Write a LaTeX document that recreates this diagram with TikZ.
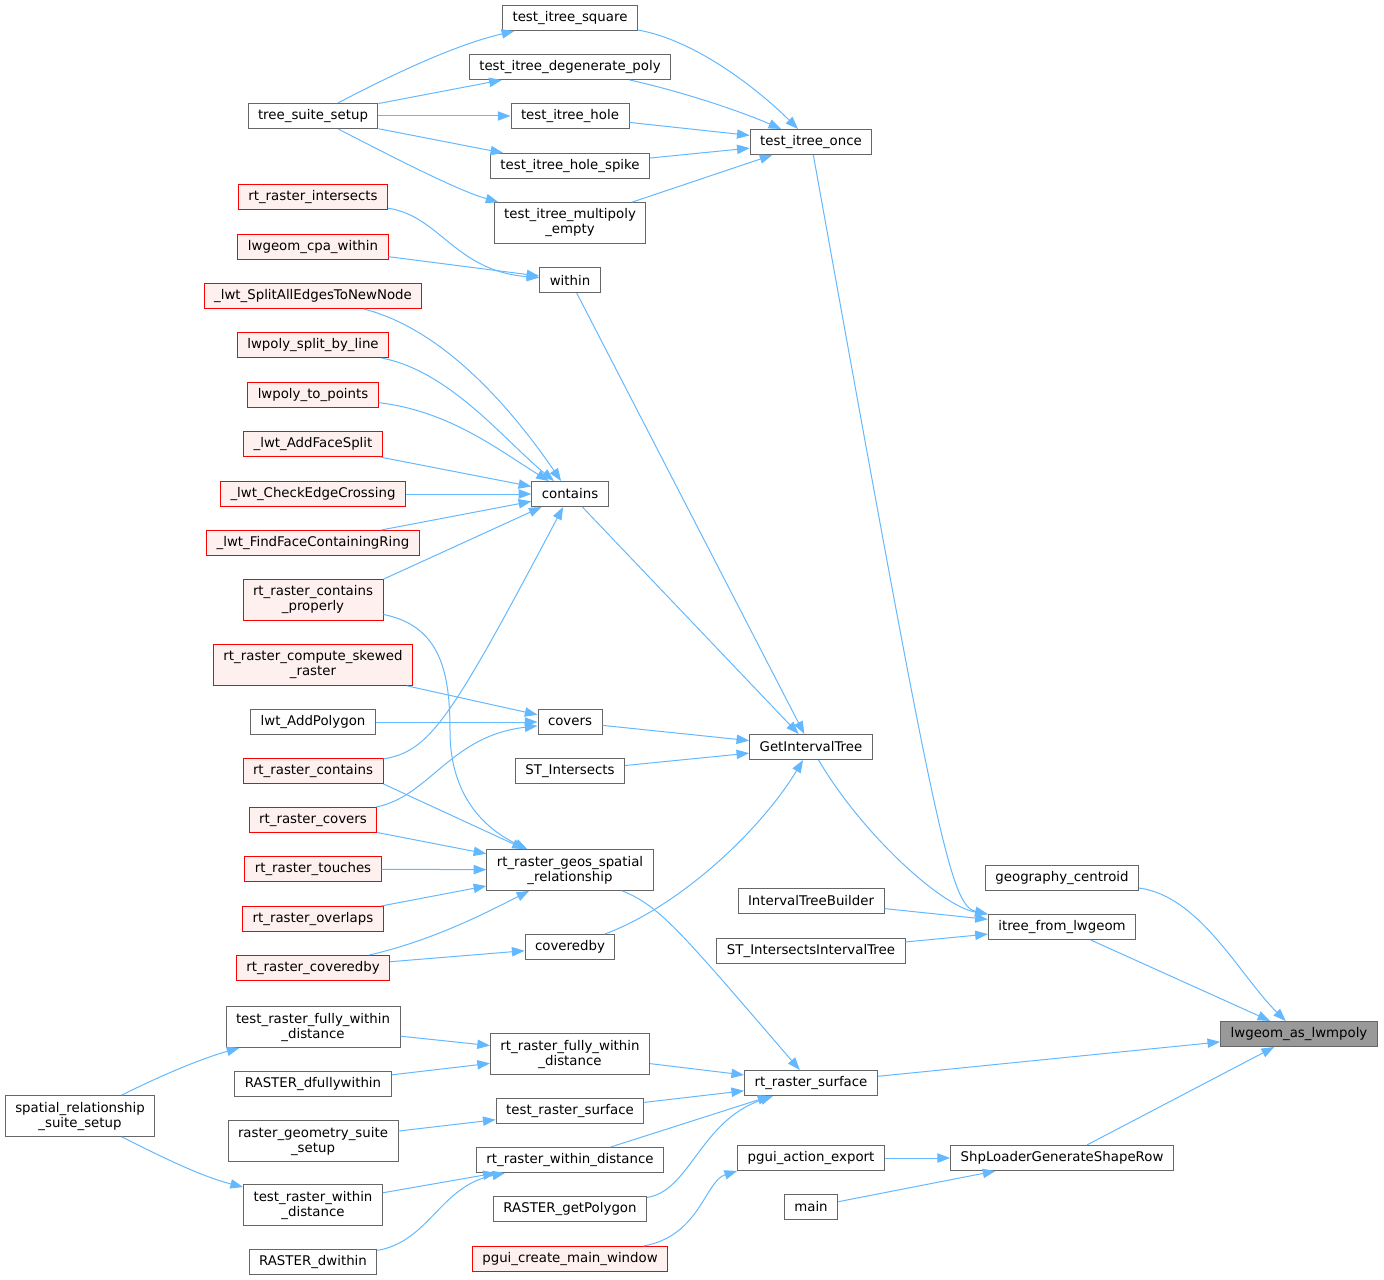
\documentclass[tikz,border=0pt]{standalone}
\usepackage{fontspec}
\setmainfont{DejaVu Sans}
\usepackage{tikz}
\usetikzlibrary{arrows.meta}
\usepackage{xcolor}
\definecolor{edgeblue}{HTML}{63B8FF}
\definecolor{boxgray}{HTML}{666666}
\definecolor{rootgray}{HTML}{999999}
\definecolor{redfill}{HTML}{FFF0F0}

\begin{document}
\begin{tikzpicture}[x=0.75pt,y=-0.75pt,
  fn/.style={draw=boxgray,fill=white,line width=0.75pt,font=\fontsize{10}{11.25}\selectfont,
    inner xsep=7.5pt,inner ysep=0pt,minimum height=18.75pt,align=center},
  fnii/.style={fn,minimum height=30.5pt},
  fnred/.style={draw=red,fill=redfill},
  fnroot/.style={fill=rootgray},
  call/.style={edgeblue,line width=0.75pt,-{Triangle[length=9.5pt,width=7pt]}}]
\useasboundingbox (0,0) rectangle (1384,1280);

\node[fn,fnroot] (root) at (1299,1034) {lwgeom\_as\_lwmpoly};
\node[fn] (gcen) at (1062,878) {geography\_centroid};
\node[fn] (itree) at (1062,927) {itree\_from\_lwgeom};
\node[fn] (shpgen) at (1062,1158) {ShpLoaderGenerateShapeRow};

\node[fn] (once) at (811,142) {test\_itree\_once};
\node[fn] (getit) at (811,747) {GetIntervalTree};
\node[fn] (itb) at (811,901) {IntervalTreeBuilder};
\node[fn] (stiit) at (811,951) {ST\_IntersectsIntervalTree};
\node[fn] (surf) at (811,1083) {rt\_raster\_surface};
\node[fn] (export) at (811,1158) {pgui\_action\_export};
\node[fn] (main) at (811,1207) {main};

\node[fn] (square) at (570,18) {test\_itree\_square};
\node[fn] (degen) at (570,67) {test\_itree\_degenerate\_poly};
\node[fn] (hole) at (570,116) {test\_itree\_hole};
\node[fn] (spike) at (570,166) {test\_itree\_hole\_spike};
\node[fnii] (mpoly) at (570,223) {test\_itree\_multipoly\\\_empty};
\node[fn] (within) at (570,280) {within};
\node[fn] (contains) at (570,494) {contains};
\node[fn] (covers) at (570,722) {covers};
\node[fn] (stint) at (570,771) {ST\_Intersects};
\node[fnii] (geosrel) at (570,870) {rt\_raster\_geos\_spatial\\\_relationship};
\node[fn] (coveredby) at (570,947) {coveredby};
\node[fnii] (rfwd) at (570,1054) {rt\_raster\_fully\_within\\\_distance};
\node[fn] (trsurf) at (570,1111) {test\_raster\_surface};
\node[fn] (rwd) at (570,1160) {rt\_raster\_within\_distance};
\node[fn] (getpoly) at (570,1209) {RASTER\_getPolygon};
\node[fn,fnred] (mainwin) at (570,1259) {pgui\_create\_main\_window};

\node[fn] (setup) at (313,116) {tree\_suite\_setup};
\node[fn,fnred] (rinter) at (313,197) {rt\_raster\_intersects};
\node[fn,fnred] (cpa) at (313,247) {lwgeom\_cpa\_within};
\node[fn,fnred] (split) at (313,296) {\_lwt\_SplitAllEdgesToNewNode};
\node[fn,fnred] (splitline) at (313,345) {lwpoly\_split\_by\_line};
\node[fn,fnred] (topoints) at (313,395) {lwpoly\_to\_points};
\node[fn,fnred] (facesplit) at (313,444) {\_lwt\_AddFaceSplit};
\node[fn,fnred] (edgecross) at (313,494) {\_lwt\_CheckEdgeCrossing};
\node[fn,fnred] (facering) at (313,543) {\_lwt\_FindFaceContainingRing};
\node[fnii,fnred] (rcontprop) at (313,600) {rt\_raster\_contains\\\_properly};
\node[fnii,fnred] (skewed) at (313,665) {rt\_raster\_compute\_skewed\\\_raster};
\node[fn] (addpoly) at (313,722) {lwt\_AddPolygon};
\node[fn,fnred] (rcont) at (313,771) {rt\_raster\_contains};
\node[fn,fnred] (rcovers) at (313,820) {rt\_raster\_covers};
\node[fn,fnred] (rtouch) at (313,869) {rt\_raster\_touches};
\node[fn,fnred] (roverlap) at (313,919) {rt\_raster\_overlaps};
\node[fn,fnred] (rcovby) at (313,968) {rt\_raster\_coveredby};
\node[fnii] (trfwd) at (313,1027) {test\_raster\_fully\_within\\\_distance};
\node[fn] (dfully) at (313,1084) {RASTER\_dfullywithin};
\node[fnii] (rgsetup) at (313,1141) {raster\_geometry\_suite\\\_setup};
\node[fnii] (trwd) at (313,1205) {test\_raster\_within\\\_distance};
\node[fn] (dwithin) at (313,1262) {RASTER\_dwithin};

\node[fnii] (srsetup) at (80,1116) {spatial\_relationship\\\_suite\_setup};

\draw[call] (gcen) .. controls (1200,896) and (1240,976) .. (root);
\draw[call] (itree) -- (root);
\draw[call] (surf) -- (root);
\draw[call] (shpgen) -- (root);

\draw[call] (once) .. controls (935,831) and (950,906) .. (itree.north west);
\draw[call] (getit) .. controls (860,831) and (940,906) .. (itree);
\draw[call] (itb) -- (itree);
\draw[call] (stiit) -- (itree);

\draw[call] (within) -- (getit);
\draw[call] (contains) -- (getit);
\draw[call] (covers) -- (getit);
\draw[call] (stint) -- (getit);
\draw[call] (coveredby) .. controls (680,906) and (760,831) .. (getit);

\draw[call] (square) .. controls (700,41) and (765,96) .. (once);
\draw[call] (degen) .. controls (680,91) and (740,111) .. (once);
\draw[call] (hole) -- (once);
\draw[call] (spike) -- (once);
\draw[call] (mpoly) -- (once);

\draw[call] (setup) .. controls (380,81) and (450,46) .. (square);
\draw[call] (setup) -- (degen);
\draw[call] (setup) -- (hole);
\draw[call] (setup) -- (spike);
\draw[call] (setup) .. controls (410,166) and (460,191) .. (mpoly);

\draw[call] (rinter) .. controls (440,216) and (455,271) .. (within);
\draw[call] (cpa) -- (within);

\draw[call] (split) .. controls (450,331) and (520,421) .. (contains);
\draw[call] (splitline) .. controls (450,371) and (505,441) .. (contains);
\draw[call] (topoints) .. controls (450,411) and (500,451) .. (contains);
\draw[call] (facesplit) -- (contains);
\draw[call] (edgecross) -- (contains);
\draw[call] (facering) -- (contains);
\draw[call] (rcontprop.north east) -- (contains);
\draw[call] (rcont) .. controls (430,751) and (450,721) .. (contains);

\draw[call] (skewed) -- (covers);
\draw[call] (addpoly) -- (covers);
\draw[call] (rcovers) .. controls (430,796) and (450,736) .. (covers);

\draw[call] (rcontprop) .. controls (440,626) and (450,671) .. (450,731)
  .. controls (450,801) and (490,831) .. (geosrel);
\draw[call] (rcont.south east) -- (geosrel);
\draw[call] (rcovers) -- (geosrel);
\draw[call] (rtouch) -- (geosrel);
\draw[call] (roverlap) -- (geosrel);
\draw[call] (rcovby) .. controls (430,941) and (480,916) .. (geosrel);
\draw[call] (rcovby) -- (coveredby);

\draw[call] (geosrel) .. controls (660,906) and (680,931) .. (surf);
\draw[call] (rfwd) -- (surf);
\draw[call] (trsurf) -- (surf);
\draw[call] (rwd) -- (surf);
\draw[call] (getpoly) .. controls (690,1191) and (700,1121) .. (surf);

\draw[call] (trfwd) -- (rfwd);
\draw[call] (dfully) -- (rfwd);
\draw[call] (rgsetup) -- (trsurf);
\draw[call] (trwd) -- (rwd);
\draw[call] (dwithin) .. controls (430,1241) and (440,1186) .. (rwd);

\draw[call] (srsetup) .. controls (160,1076) and (200,1059) .. (trfwd);
\draw[call] (srsetup) .. controls (160,1156) and (200,1176) .. (trwd);

\draw[call] (export) -- (shpgen);
\draw[call] (main) -- (shpgen);
\draw[call] (mainwin) .. controls (700,1236) and (705,1181) .. (export.south west);
\end{tikzpicture}
\end{document}
